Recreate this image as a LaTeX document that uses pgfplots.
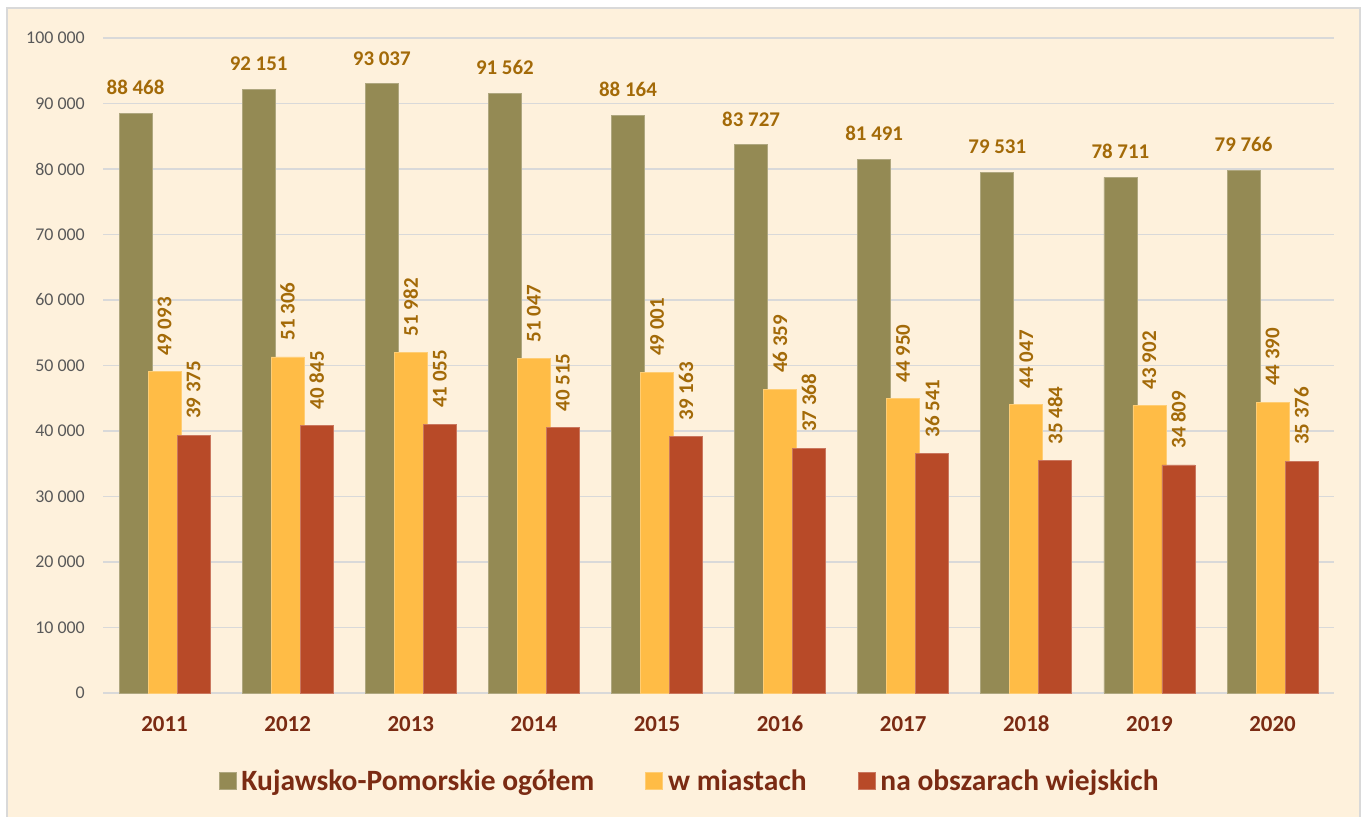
\documentclass[border=0pt]{standalone}
\usepackage{fontspec}
\setmainfont{Carlito}
\usepackage{pgfplots}
\pgfplotsset{compat=1.18}
\definecolor{bgcream}{HTML}{FEF1DC}
\definecolor{bordergray}{HTML}{D9D9D9}
\definecolor{gridgray}{HTML}{D9D9D9}
\definecolor{cOlive}{HTML}{948A54}
\definecolor{cYellow}{HTML}{FFBC46}
\definecolor{cRed}{HTML}{B84A28}
\definecolor{cYear}{HTML}{7B2B13}
\definecolor{cVal}{HTML}{A36A08}
\definecolor{cTick}{HTML}{595959}
\begin{document}
\begin{tikzpicture}[x=1bp,y=1bp]
\useasboundingbox (0,0) rectangle (1366,816);
\fill[white] (0,0) rectangle (1366,816);
\filldraw[fill=bgcream, draw=bordergray, line width=1.5bp] (7,-5) rectangle (1360,808);
\begin{axis}[
  at={(103bp,123bp)}, anchor=south west,
  scale only axis, width=1231bp, height=655bp,
  xmin=-0.5, xmax=9.5, ymin=0, ymax=100000,
  scaled y ticks=false,
  clip=false,
  axis x line*=bottom, axis y line*=left,
  x axis line style={draw=gridgray, line width=1.5bp, -},
  y axis line style={draw=none},
  major tick length=0pt,
  ymajorgrids, grid style={draw=gridgray, line width=1.5bp},
  ytick={0,10000,20000,30000,40000,50000,60000,70000,80000,90000,100000},
  yticklabels={0,10 000,20 000,30 000,40 000,50 000,60 000,70 000,80 000,90 000,100 000},
  yticklabel style={anchor=east, inner sep=0pt, xshift=-18bp, text=cTick, font=\fontsize{18}{20}\selectfont},
  xtick={0,...,9},
  xticklabels={2011,2012,2013,2014,2015,2016,2017,2018,2019,2020},
  xticklabel style={anchor=base, inner sep=0pt, yshift=-38.5bp, text=cYear, font=\fontsize{23}{25}\selectfont\bfseries},
  /pgf/number format/assume math mode=true,
  ybar=-4bp, bar width=33bp,
  nodes near coords={\pgfmathprintnumber[1000 sep={\ }, assume math mode=true]{\pgfplotspointmeta}},
  nodes near coords style={text=cVal, font=\fontsize{21}{23}\selectfont\bfseries},
  legend columns=3,
  legend style={at={(0.4777,-0.1344)}, anchor=center, draw=none, fill=none,
    font=\fontsize{29.6}{31}\selectfont\bfseries, text=cYear,
    /tikz/every even column/.append style={column sep=46bp},
    nodes={inner xsep=5bp}},
  legend image code/.code={\fill[#1] (0bp,-8.5bp) rectangle (17bp,8.5bp);},
]
\addplot[fill=cOlive, draw=cOlive!75!white, line width=0.8bp,
  nodes near coords style={anchor=south, inner sep=0pt, yshift=18bp}]
  coordinates {(0,88468) (1,92151) (2,93037) (3,91562) (4,88164) (5,83727) (6,81491) (7,79531) (8,78711) (9,79766)};
\addplot[fill=cYellow, draw=cYellow!75!white, line width=0.8bp,
  nodes near coords style={rotate=90, anchor=west, inner xsep=16bp, inner ysep=0pt}]
  coordinates {(0,49093) (1,51306) (2,51982) (3,51047) (4,49001) (5,46359) (6,44950) (7,44047) (8,43902) (9,44390)};
\addplot[fill=cRed, draw=cRed!75!white, line width=0.8bp,
  nodes near coords style={rotate=90, anchor=west, inner xsep=16bp, inner ysep=0pt}]
  coordinates {(0,39375) (1,40845) (2,41055) (3,40515) (4,39163) (5,37368) (6,36541) (7,35484) (8,34809) (9,35376)};
\legend{Kujawsko-Pomorskie ogółem, w miastach, na obszarach wiejskich}
\end{axis}
\end{tikzpicture}
\end{document}
